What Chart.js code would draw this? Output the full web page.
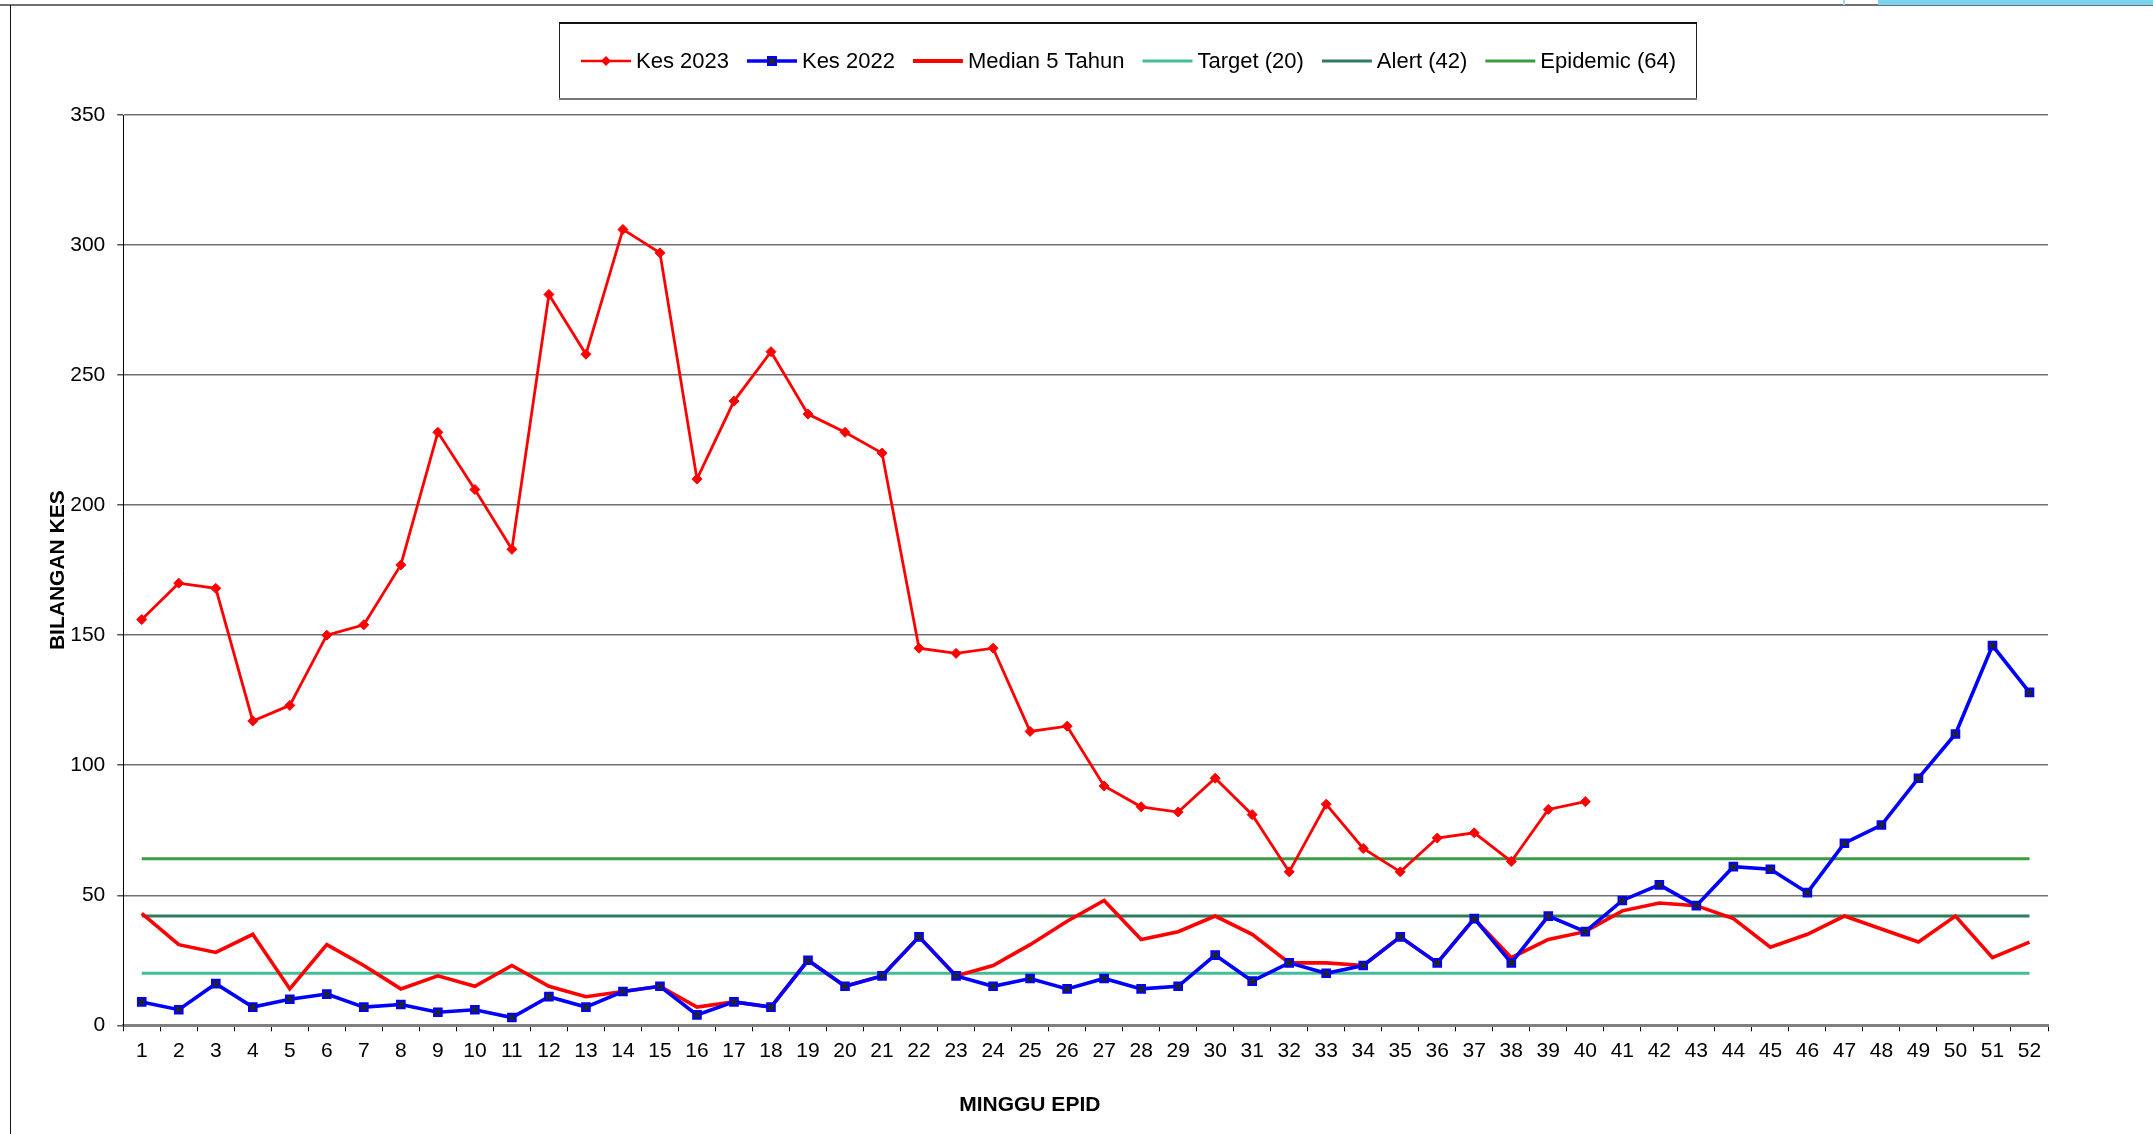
<!DOCTYPE html>
<html>
<head>
<meta charset="utf-8">
<script src="https://cdn.jsdelivr.net/npm/chart.js@4.4.1/dist/chart.umd.min.js"></script>
<style>
html,body{margin:0;padding:0;background:#fff;}
#wrap{position:relative;width:2153px;height:1134px;overflow:hidden;background:#fff;}
#c{position:absolute;left:0;top:0;}
#frameTop{position:absolute;left:0;top:4px;width:2153px;height:2px;background:#6f6f6f;}
#frameLeft{position:absolute;left:10px;top:5px;width:1px;height:1129px;background:#111;}
#cornerBlue{position:absolute;left:1878px;top:0;width:275px;height:5px;background:#7bd2ee;}
#cornerSliver{position:absolute;left:1843px;top:0;width:2px;height:5px;background:#9fdcf0;}
</style>
</head>
<body>
<div id="wrap">
  <canvas id="c" width="2153" height="1134"></canvas>
  <div id="frameTop"></div>
  <div id="frameLeft"></div>
  <div id="cornerBlue"></div>
  <div id="cornerSliver"></div>
</div>
<script>
// ---- data ----
const weeks = ['1','2','3','4','5','6','7','8','9','10','11','12','13','14','15','16','17','18','19','20','21','22','23','24','25','26','27','28','29','30','31','32','33','34','35','36','37','38','39','40','41','42','43','44','45','46','47','48','49','50','51','52'];
const kes2023 = [156,170,168,117,123,150,154,177,228,206,183,281,258,306,297,210,240,259,235,228,220,145,143,145,113,115,92,84,82,95,81,59,85,68,59,72,74,63,83,86];
const kes2022 = [9,6,16,7,10,12,7,8,5,6,3,11,7,13,15,4,9,7,25,15,19,34,19,15,18,14,18,14,15,27,17,24,20,23,34,24,41,24,42,36,48,54,46,61,60,51,70,77,95,112,146,128];
const median5 = [43,31,28,35,14,31,23,14,19,15,23,15,11,13,15,7,9,7,25,15,19,34,19,23,31,40,48,33,36,42,35,24,24,23,34,24,41,26,33,36,44,47,46,41,30,35,42,37,32,42,26,32];
const targetLevel = 20;
const alertLevel = 42;
const epidemicLevel = 64;
const yTicks = [0,50,100,150,200,250,300,350];

const FONT = '"Liberation Sans", Arial, sans-serif';

function flatLine(v){ return [{x: weeks[0], y: v}, {x: weeks[weeks.length-1], y: v}]; }

const C_TARGET = '#42bd98', C_ALERT = '#2f7b5d', C_EPI = '#3b9b43';

// custom boxed legend drawn from datasets
const boxLegend = {
  id: 'boxLegend',
  afterDraw(chart){
    const ctx = chart.ctx;
    const ds = chart.data.datasets;
    ctx.save();
    const bL = 559, bR = 1696, bT = 23, bB = 98;
    ctx.strokeStyle = '#222';
    ctx.lineWidth = 1;
    ctx.strokeRect(bL + 0.5, bT + 0.5, bR - bL, bB - bT);
    ctx.fillStyle = '#777';
    ctx.fillRect(bL, bB, bR - bL + 1, 2);
    ctx.fillStyle = '#111';
    ctx.fillRect(bL, bT - 1, bR - bL + 1, 2);
    ctx.font = '22px ' + FONT;
    ctx.textBaseline = 'middle';
    const lineLen = 50, gap = 5, spacing = 18;
    let x = bL + 22;
    const y = 61;
    ds.forEach(d => {
      ctx.strokeStyle = d.borderColor;
      ctx.lineWidth = d.legendLineWidth || d.borderWidth;
      ctx.beginPath(); ctx.moveTo(x, y); ctx.lineTo(x + lineLen, y); ctx.stroke();
      const cx = x + lineLen/2;
      if (d.pointStyle === 'rectRot' && d.pointRadius > 0){
        ctx.fillStyle = d.pointBackgroundColor;
        ctx.beginPath();
        ctx.moveTo(cx, y-5); ctx.lineTo(cx+5, y); ctx.lineTo(cx, y+5); ctx.lineTo(cx-5, y); ctx.closePath();
        ctx.fill();
      } else if (d.pointStyle === 'rect' && d.pointRadius > 0){
        ctx.fillStyle = d.pointBackgroundColor;
        ctx.strokeStyle = d.pointBorderColor;
        ctx.lineWidth = 2;
        ctx.fillRect(cx-4, y-4, 8, 8);
        ctx.strokeRect(cx-4, y-4, 8, 8);
      }
      x += lineLen + gap;
      ctx.fillStyle = '#000';
      ctx.fillText(d.label, x, y + 1);
      x += ctx.measureText(d.label).width + spacing;
    });
    // x axis title
    const ca = chart.chartArea;
    ctx.font = 'bold 21px ' + FONT;
    ctx.textAlign = 'center';
    ctx.fillText('MINGGU EPID', ca.left + 0.471 * (ca.right - ca.left), 1105);
    ctx.restore();
  }
};

new Chart(document.getElementById('c'), {
  type: 'line',
  data: {
    labels: weeks,
    datasets: [
      { label: 'Kes 2023', data: kes2023, borderColor: '#ff0000', borderWidth: 2.8, legendLineWidth: 2.5,
        pointStyle: 'rectRot', pointRadius: 5, pointBackgroundColor: '#ff0000', pointBorderColor: '#ff0000', pointBorderWidth: 1,
        order: 0, tension: 0 },
      { label: 'Kes 2022', data: kes2022, borderColor: '#0000ff', borderWidth: 3.6, legendLineWidth: 3.5,
        pointStyle: 'rect', pointRadius: 5.4, pointBackgroundColor: '#23232f', pointBorderColor: '#0000ff', pointBorderWidth: 2,
        order: 1, tension: 0 },
      { label: 'Median 5 Tahun', data: median5, borderColor: '#ff0000', borderWidth: 3.6, legendLineWidth: 4,
        pointRadius: 0, order: 2, tension: 0 },
      { label: 'Target (20)', data: flatLine(targetLevel), borderColor: C_TARGET, borderWidth: 3, pointRadius: 0, order: 5 },
      { label: 'Alert (42)', data: flatLine(alertLevel), borderColor: C_ALERT, borderWidth: 3, pointRadius: 0, order: 4 },
      { label: 'Epidemic (64)', data: flatLine(epidemicLevel), borderColor: C_EPI, borderWidth: 3, pointRadius: 0, order: 3 }
    ]
  },
  options: {
    responsive: false,
    animation: false,
    events: [],
    layout: { padding: { top: 115, left: 46, right: 105, bottom: 63.5 } },
    plugins: {
      legend: { display: false },
      tooltip: { enabled: false },
      title: { display: false }
    },
    scales: {
      x: {
        type: 'category',
        offset: true,
        grid: { display: true, drawOnChartArea: false, drawTicks: true, tickLength: 6, color: '#000', lineWidth: 1, offset: true },
        border: { display: true, color: '#808080', width: 3 },
        ticks: { color: '#000', font: { family: FONT, size: 21 }, padding: 7, autoSkip: false, maxRotation: 0 }
      },
      y: {
        min: yTicks[0], max: yTicks[yTicks.length-1],
        afterBuildTicks(scale){ scale.ticks = yTicks.map(v => ({value: v})); },
        grid: { color: '#707070', lineWidth: 1.5, drawTicks: true, tickLength: 6, tickColor: '#555' },
        border: { display: true, color: '#000', width: 1 },
        ticks: { color: '#000', font: { family: FONT, size: 21 }, padding: 12 },
        title: { display: true, text: 'BILANGAN KES', color: '#000', font: { family: FONT, size: 21, weight: 'bold' }, padding: { top: 0, bottom: -13 } }
      }
    }
  },
  plugins: [boxLegend]
});
</script>
</body>
</html>
